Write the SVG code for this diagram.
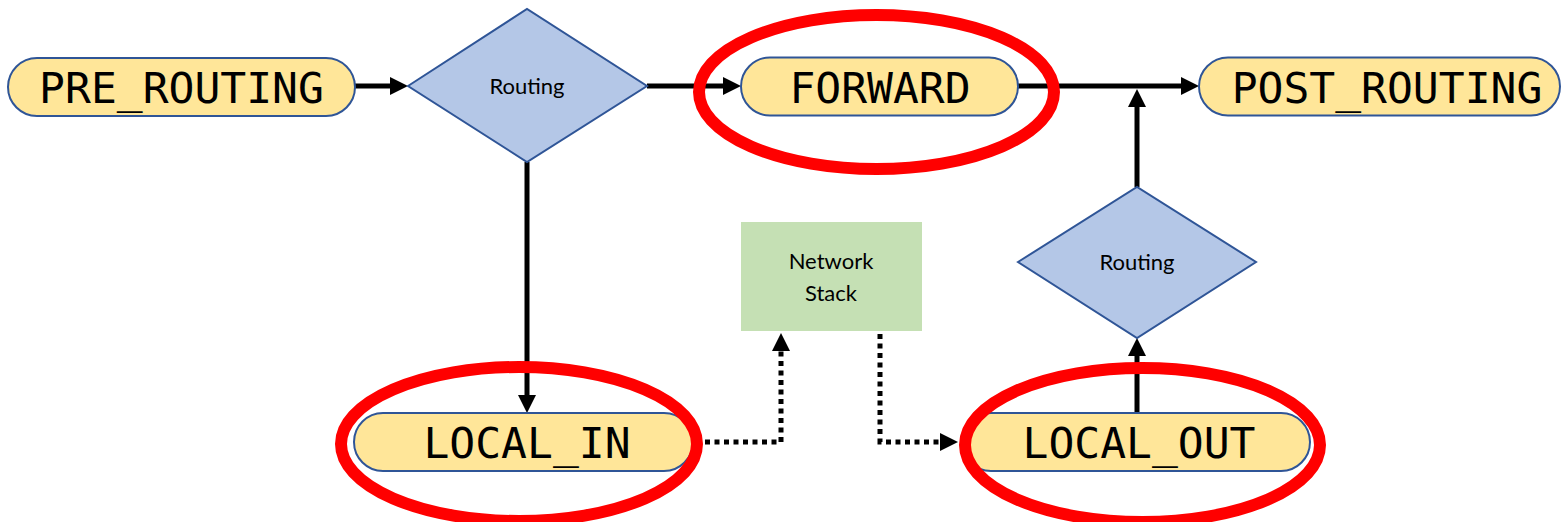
<svg xmlns="http://www.w3.org/2000/svg" width="1562" height="522" viewBox="0 0 1562 522">
<style>
.pill{fill:#ffe699;stroke:#2f5597;stroke-width:2}
.dia{fill:#b4c7e7;stroke:#2f5597;stroke-width:2}
.mono{font-family:"DejaVu Sans Mono","Liberation Mono",monospace;font-size:43px;fill:#000;text-anchor:middle}
.lbl{font-family:Lato,"Open Sans","Liberation Sans",sans-serif;font-size:22px;fill:#000;text-anchor:middle}
.con{fill:none;stroke:#000;stroke-width:5}
.dot{fill:none;stroke:#000;stroke-width:5;stroke-dasharray:5 4.5}
.hl{fill:none;stroke:#ff0000;stroke-width:12}
</style>
<defs>
<marker id="ah" viewBox="0 0 18 18" refX="10" refY="9" markerWidth="18" markerHeight="18" markerUnits="userSpaceOnUse" orient="auto">
<path d="M0,0 L18,9 L0,18 z" fill="#000" stroke="none"/>
</marker>
</defs>
<g id="connectors">
<line class="con" x1="355" y1="86" x2="400" y2="86" marker-end="url(#ah)"/>
<line class="con" x1="647" y1="86" x2="733" y2="86" marker-end="url(#ah)"/>
<line class="con" x1="1018" y1="86" x2="1191" y2="86" marker-end="url(#ah)"/>
<line class="con" x1="1137" y1="187" x2="1137" y2="97" marker-end="url(#ah)"/>
<line class="con" x1="527" y1="162" x2="527" y2="405" marker-end="url(#ah)"/>
<line class="con" x1="1137" y1="413" x2="1137" y2="346" marker-end="url(#ah)"/>
<path class="dot" d="M705,442 H781 V341" marker-end="url(#ah)"/>
<path class="dot" d="M880,334 V442 H950" marker-end="url(#ah)"/>
</g>
<g id="pre_routing">
<rect class="pill" x="8" y="58" width="347" height="58" rx="29"/>
<text class="mono" x="181.5" y="103">PRE_ROUTING</text>
</g>
<g id="routing1">
<polygon class="dia" points="408,86 527,9 647,86 527,162"/>
<text class="lbl" x="527" y="94">Routing</text>
</g>
<g id="forward">
<rect class="pill" x="741" y="57.5" width="277" height="58" rx="29"/>
<text class="mono" x="880" y="103">FORWARD</text>
</g>
<g id="post_routing">
<rect class="pill" x="1199" y="57.5" width="361" height="58" rx="29"/>
<text class="mono" x="1387" y="103">POST_ROUTING</text>
</g>
<g id="routing2">
<polygon class="dia" points="1018,262 1137,187 1256,262 1137,338"/>
<text class="lbl" x="1137" y="270">Routing</text>
</g>
<g id="network_stack">
<rect x="741" y="222" width="181" height="109" fill="#c5e0b4"/>
<text class="lbl" x="831" y="269">Network</text>
<text class="lbl" x="831" y="301">Stack</text>
</g>
<g id="local_in">
<rect class="pill" x="354" y="413" width="339" height="58" rx="29"/>
<text class="mono" x="527" y="458">LOCAL_IN</text>
</g>
<g id="local_out">
<rect class="pill" x="962" y="413" width="348" height="58" rx="29"/>
<text class="mono" x="1139" y="458">LOCAL_OUT</text>
</g>
<g id="highlights">
<ellipse class="hl" cx="876.5" cy="92" rx="177.5" ry="77"/>
<ellipse class="hl" cx="519" cy="444" rx="178" ry="77"/>
<ellipse class="hl" cx="1142.5" cy="445" rx="177.5" ry="77"/>
</g>
</svg>
